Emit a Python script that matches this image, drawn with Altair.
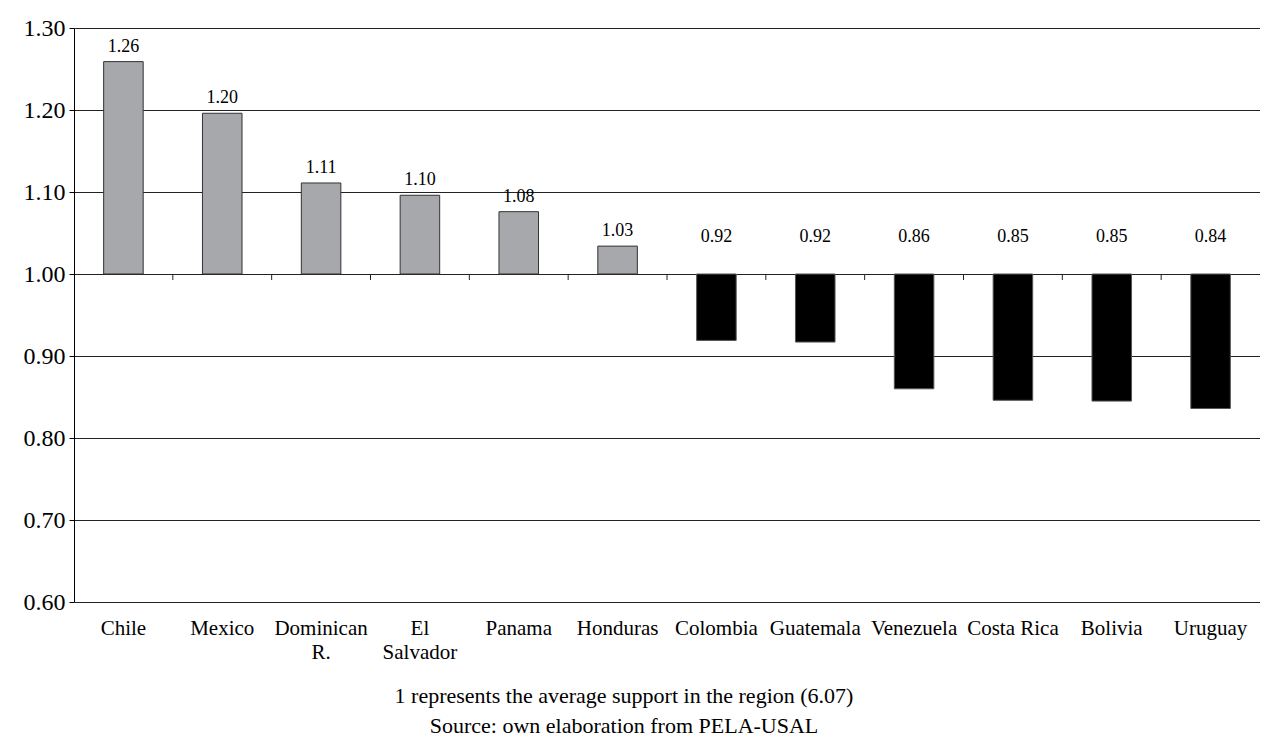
import altair as alt
import pandas as pd

countries = ["Chile", "Mexico", "Dominican R.", "El Salvador", "Panama", "Honduras",
             "Colombia", "Guatemala", "Venezuela", "Costa Rica", "Bolivia", "Uruguay"]
values = [1.259, 1.196, 1.111, 1.096, 1.076, 1.034, 0.919, 0.917, 0.860, 0.846, 0.845, 0.836]
labels = ["1.26", "1.20", "1.11", "1.10", "1.08", "1.03", "0.92", "0.92", "0.86", "0.85", "0.85", "0.84"]
y_ticks = [0.6, 0.7, 0.8, 0.9, 1.0, 1.1, 1.2, 1.3]
baseline = 1.0

df = pd.DataFrame({"country": countries, "value": values, "label": labels})
df["above"] = df["value"] > baseline

FONT = "Liberation Serif"
W, H = 1186, 574

xscale = alt.Scale(domain=countries, paddingInner=0.6, paddingOuter=0.3)
yscale = alt.Scale(domain=[0.6, 1.3], nice=False, zero=False)

label_expr = ("datum.label == 'Dominican R.' ? ['Dominican', 'R.'] : "
              "datum.label == 'El Salvador' ? ['El', 'Salvador'] : datum.label")

x_enc = alt.X("country:N", scale=xscale, sort=countries, title=None,
              axis=alt.Axis(labelAngle=0, labelFont=FONT, labelFontSize=21, labelColor="black",
                            labelPadding=15, labelLineHeight=24, labelExpr=label_expr,
                            ticks=False, domain=False, grid=False, labelOverlap=False))
y_enc = alt.Y("value:Q", scale=yscale, title=None,
              axis=alt.Axis(values=y_ticks, format=".2f", labelFont=FONT, labelFontSize=24,
                            labelColor="black", labelPadding=4, tickSize=5, tickColor="black",
                            domainColor="black", grid=True, gridColor="#222", gridWidth=1))

bars = alt.Chart(df).mark_bar(strokeWidth=1).encode(
    x=x_enc,
    y=y_enc,
    y2=alt.datum(baseline),
    fill=alt.condition(alt.datum.above, alt.value("#a7a8ab"), alt.value("black")),
    stroke=alt.condition(alt.datum.above, alt.value("#333"), alt.value("#555")),
)

x_plain = alt.X("country:N", scale=xscale, sort=countries, axis=None)

pos_text = alt.Chart(df).transform_filter(alt.datum.above).mark_text(
    font=FONT, fontSize=18, color="black", baseline="alphabetic", dy=-10
).encode(x=x_plain, y=alt.Y("value:Q", scale=yscale), text="label:N")

neg_text = alt.Chart(df).transform_filter(~alt.datum.above).mark_text(
    font=FONT, fontSize=18, color="black", baseline="alphabetic", dy=-32
).encode(x=x_plain, y=alt.datum(baseline), text="label:N")

tick_df = pd.DataFrame({"country": countries[1:]})
ticks = alt.Chart(tick_df).mark_rule(color="#222", strokeWidth=1).encode(
    x=alt.X("country:N", scale=alt.Scale(domain=countries, paddingInner=0, paddingOuter=0),
            bandPosition=0, axis=None),
    y=alt.datum(baseline),
    y2=alt.datum(0.9927),
)

chart = alt.layer(bars, pos_text, neg_text, ticks).resolve_scale(x="independent").properties(
    width=W, height=H,
    background="white",
    padding={"left": 15, "top": 8, "right": 0, "bottom": 0},
    title=alt.TitleParams(
        text="1 represents the average support in the region (6.07)",
        subtitle="Source: own elaboration from PELA-USAL",
        orient="bottom", anchor="middle", font=FONT, fontSize=22, fontWeight="normal",
        color="black", subtitleFont=FONT, subtitleFontSize=22, subtitleColor="black",
        subtitlePadding=8, offset=24, dx=-43,
    ),
).configure_view(stroke="transparent", strokeWidth=0)

chart.save("out.html", embed_options={"renderer": "svg", "actions": False})
